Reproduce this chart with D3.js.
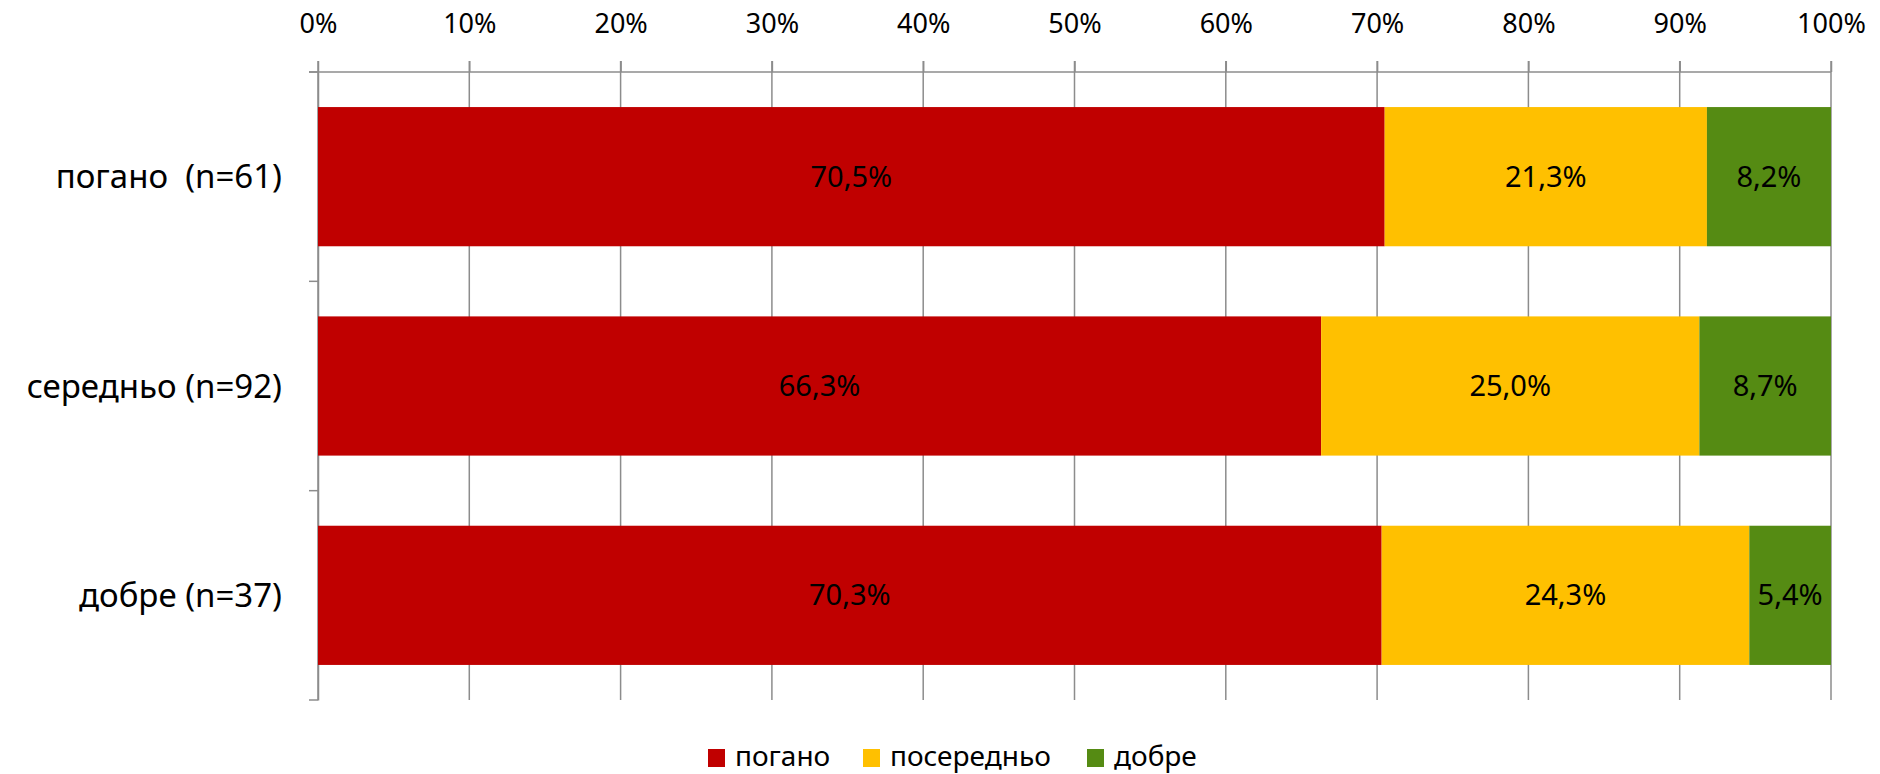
<!DOCTYPE html>
<html><head><meta charset="utf-8">
<script src="https://cdn.jsdelivr.net/npm/d3@7"></script>
<style>
body{margin:0;background:#fff;}
svg text{font-family:"Noto Sans","Open Sans",sans-serif;fill:#000;}
</style></head><body>
<svg id="c" width="1880" height="774"></svg>
<script>
const categories = ["погано  (n=61)", "середньо (n=92)", "добре (n=37)"];
const seriesNames = ["погано", "посередньо", "добре"];
const poganoVals = [70.5, 66.3, 70.3];
const seredVals = [21.3, 25.0, 24.3];
const dobreVals = [8.2, 8.7, 5.4];
const tickValues = [0,10,20,30,40,50,60,70,80,90,100];
const colors = ["#C00000", "#FFC000", "#558B13"];

const series = [poganoVals, seredVals, dobreVals];
const rows = categories.map((c,i)=>{const o={cat:c}; seriesNames.forEach((s,j)=>o[s]=series[j][i]); return o;});
const stacked = d3.stack().keys(seriesNames)(rows);

const svg = d3.select("#c");
const pLeft=318, pRight=1831, pTop=72, pBottom=700;
const x = d3.scaleLinear().domain([0,100]).range([pLeft,pRight]);
const yCat = d3.scaleBand().domain(categories).range([pTop,pBottom]).padding(0);
const yBar = d3.scaleBand().domain(categories).range([pTop,pBottom]).paddingInner(0.335).paddingOuter(0.1675);
const grid = "#8c8c8c";

// gridlines
svg.append("g").selectAll("line").data(tickValues).join("line")
  .attr("x1",d=>x(d)).attr("x2",d=>x(d)).attr("y1",pTop-11).attr("y2",pBottom)
  .attr("stroke",grid).attr("stroke-width",1.5);

// top axis
const xAxis = d3.axisTop(x).tickValues(tickValues).tickSize(11).tickFormat(d=>d+"%");
const ga = svg.append("g").attr("transform",`translate(0,${pTop})`).call(xAxis);
ga.select(".domain").remove();
ga.selectAll(".tick line").attr("stroke",grid).attr("stroke-width",1.5);
ga.selectAll(".tick text").attr("font-size",27).attr("y",-39).attr("dy",0);
svg.append("line").attr("x1",pLeft-9).attr("x2",pRight).attr("y1",pTop).attr("y2",pTop).attr("stroke",grid).attr("stroke-width",1.5);

// left axis
const yAxis = d3.axisLeft(yCat).tickSize(0).tickFormat(d=>d).tickPadding(36);
const gy = svg.append("g").attr("transform",`translate(${pLeft},0)`).call(yAxis);
gy.select(".domain").attr("stroke",grid).attr("stroke-width",1.5);
gy.selectAll(".tick text").attr("font-size",33).attr("dy","0.35em").style("white-space","pre");
const bounds = [pTop, ...categories.map(c=>yCat(c)+yCat.bandwidth())];
svg.append("g").selectAll("line").data(bounds).join("line")
  .attr("x1",pLeft-9).attr("x2",pLeft).attr("y1",d=>d).attr("y2",d=>d)
  .attr("stroke",grid).attr("stroke-width",1.5);

// bars
const layers = svg.append("g").selectAll("g").data(stacked).join("g").attr("fill",(d,i)=>colors[i]);
layers.selectAll("rect").data(d=>d).join("rect")
  .attr("x",d=>x(d[0])).attr("width",d=>x(d[1])-x(d[0]))
  .attr("y",d=>yBar(d.data.cat)).attr("height",yBar.bandwidth());
layers.selectAll("text").data(d=>d).join("text")
  .attr("x",d=>(x(d[0])+x(d[1]))/2).attr("y",d=>yBar(d.data.cat)+yBar.bandwidth()/2)
  .attr("dy","0.35em").attr("text-anchor","middle").attr("font-size",29).attr("fill","#000")
  .text(d=>(d[1]-d[0]).toFixed(1).replace(".",",")+"%");

// legend
const legX = [708, 863, 1087];
const lg = svg.append("g").selectAll("g").data(seriesNames).join("g")
  .attr("transform",(d,i)=>`translate(${legX[i]},749)`);
lg.append("rect").attr("width",17).attr("height",18).attr("fill",(d,i)=>colors[i]);
lg.append("text").attr("x",27).attr("y",17).attr("font-size",28).text(d=>d);
</script></body></html>
